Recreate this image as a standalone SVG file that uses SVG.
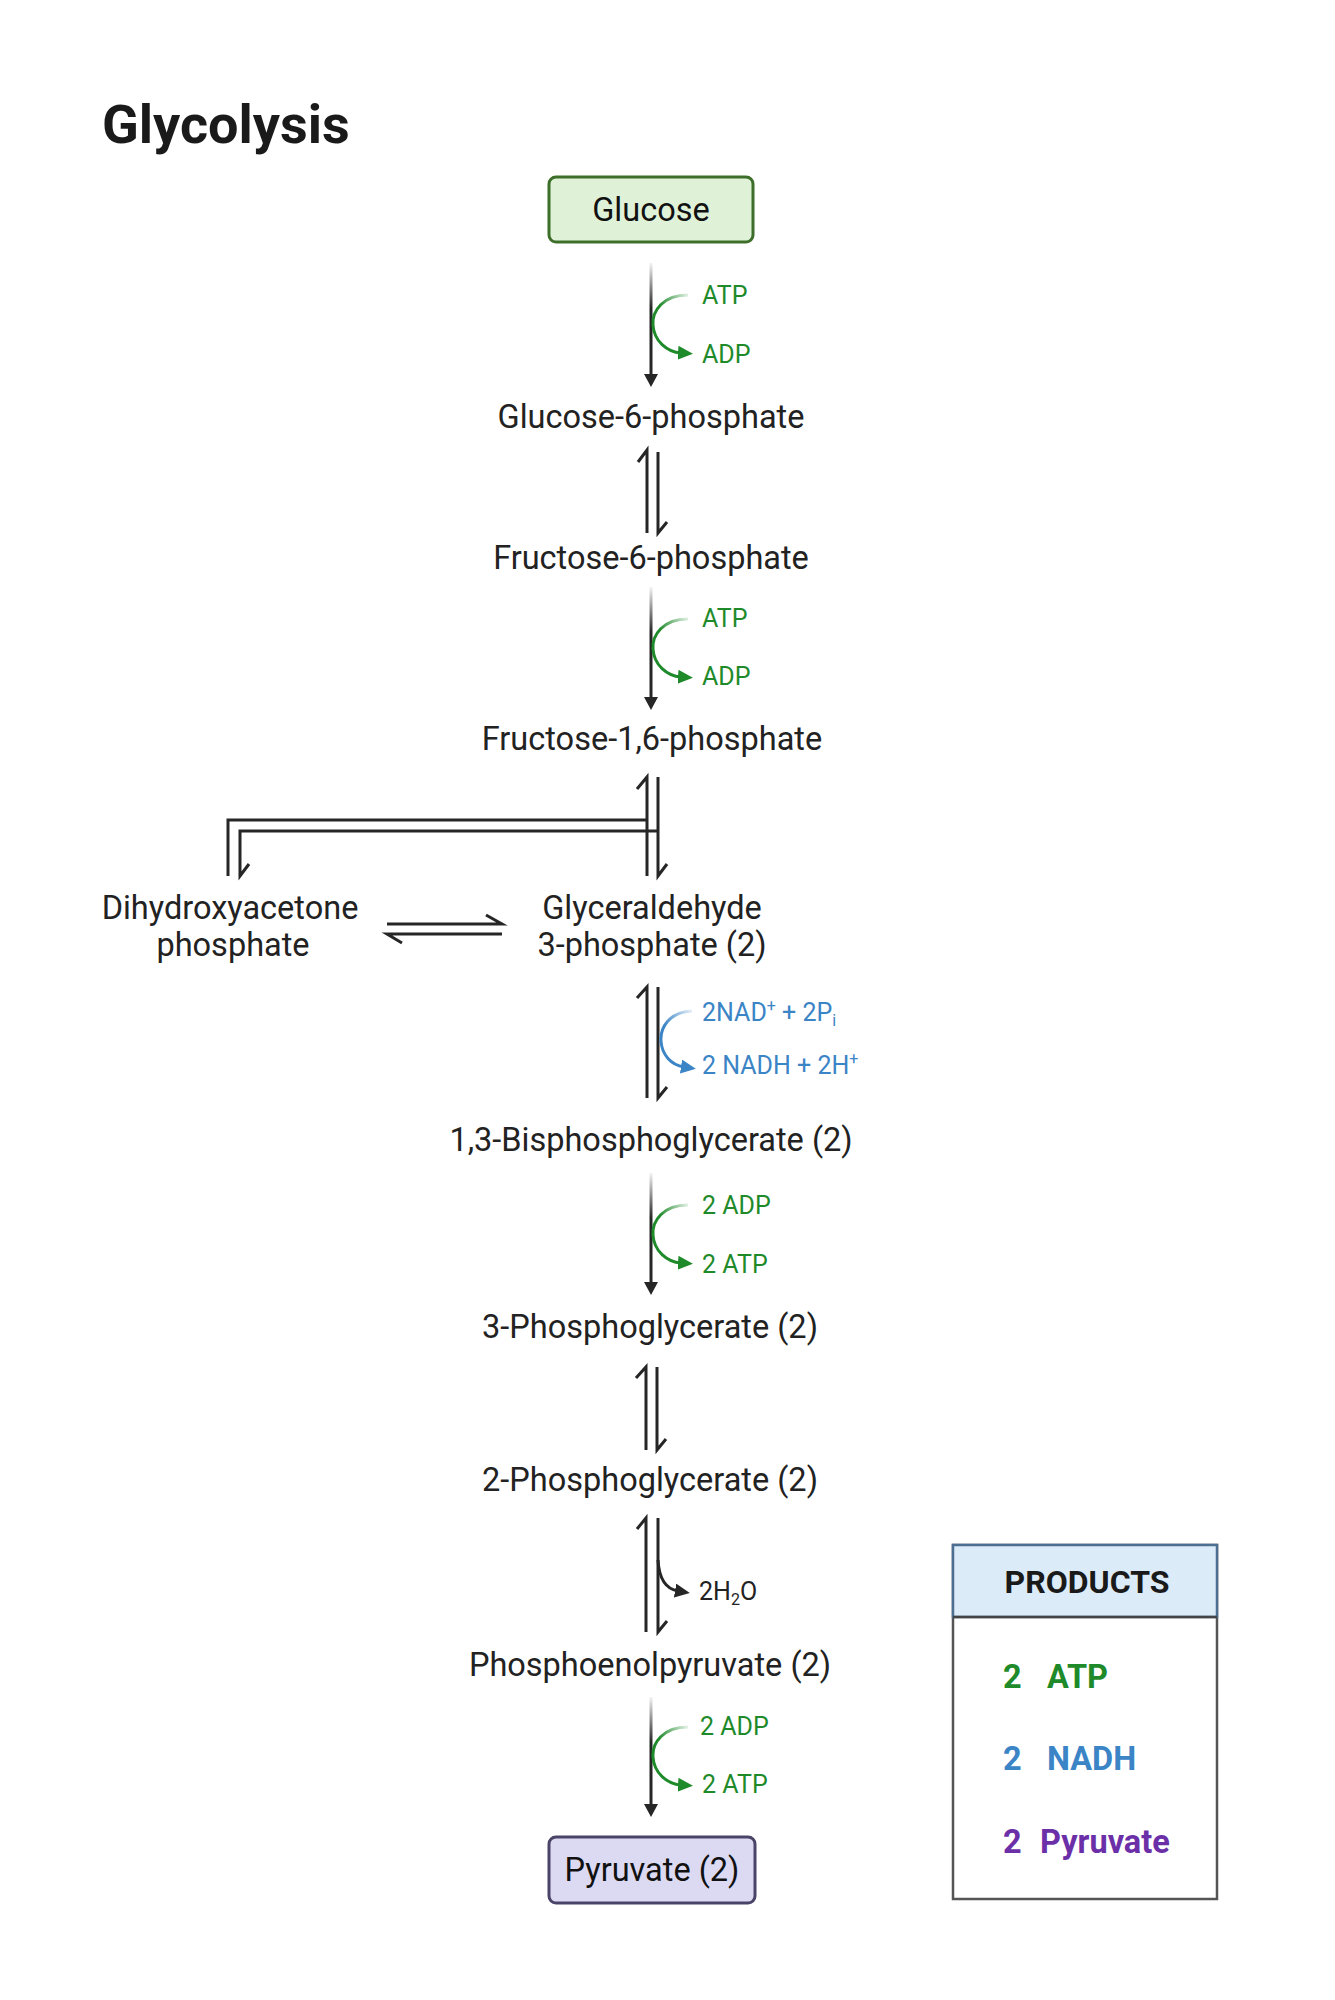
<svg xmlns="http://www.w3.org/2000/svg" width="1335" height="2000" viewBox="0 0 1335 2000">
<style>
  text { font-family: Roboto, "Liberation Sans", sans-serif; }
  .title { font-size: 54px; font-weight: 700; fill: #1a1a1a; }
  .lbl { font-size: 32.5px; fill: #222; text-anchor: middle; }
  .boxlbl { font-size: 32.5px; fill: #111; text-anchor: middle; }
  .green { font-size: 25px; fill: #1e8a2a; }
  .blue { font-size: 25px; fill: #3b84c6; }
  .dark { font-size: 25px; fill: #222; }
  .sub { font-size: 16px; }
  .stem { stroke: url(#stemFade); stroke-width: 3; fill: none; }
  .head { fill: #262626; }
  .eq { stroke: #262626; stroke-width: 3; fill: none; stroke-linecap: butt; stroke-linejoin: miter; }
  .gcurve { stroke: url(#greenFade); stroke-width: 3; fill: none; marker-end: url(#gHead); }
  .bcurve { stroke: url(#blueFade); stroke-width: 3; fill: none; marker-end: url(#bHead); }
  .kcurve { stroke: #262626; stroke-width: 3; fill: none; marker-end: url(#kHead); }
  .ph { font-size: 32px; font-weight: 700; fill: #1a1a1a; text-anchor: middle; }
  .pr { font-size: 32.5px; font-weight: 700; }
</style>
<defs>
  <linearGradient id="stemFade" gradientUnits="userSpaceOnUse" x1="0" y1="0" x2="0" y2="45">
    <stop offset="0" stop-color="#262626" stop-opacity="0.05"/>
    <stop offset="1" stop-color="#262626" stop-opacity="1"/>
  </linearGradient>
  <linearGradient id="greenFade" gradientUnits="userSpaceOnUse" x1="690" y1="32" x2="660" y2="44">
    <stop offset="0" stop-color="#1e8a2a" stop-opacity="0.08"/>
    <stop offset="1" stop-color="#1e8a2a" stop-opacity="1"/>
  </linearGradient>
  <linearGradient id="blueFade" gradientUnits="userSpaceOnUse" x1="694" y1="24" x2="664" y2="38">
    <stop offset="0" stop-color="#3b84c6" stop-opacity="0.08"/>
    <stop offset="1" stop-color="#3b84c6" stop-opacity="1"/>
  </linearGradient>
  <marker id="gHead" markerUnits="userSpaceOnUse" markerWidth="16" markerHeight="14" refX="3" refY="7" orient="auto">
    <path d="M0 0 L15 7 L0 14 z" fill="#1e8a2a"/>
  </marker>
  <marker id="bHead" markerUnits="userSpaceOnUse" markerWidth="16" markerHeight="14" refX="3" refY="7" orient="auto">
    <path d="M0 0 L15 7 L0 14 z" fill="#3b84c6"/>
  </marker>
  <marker id="kHead" markerUnits="userSpaceOnUse" markerWidth="16" markerHeight="14" refX="3" refY="7" orient="auto">
    <path d="M0 0 L15 7 L0 14 z" fill="#262626"/>
  </marker>
</defs>

<rect width="1335" height="2000" fill="#ffffff"/>

<text class="title" x="102" y="143">Glycolysis</text>

<!-- Connectors -->
<g id="connectors">
  <!-- Glucose -> G6P -->
  <g transform="translate(0,263)">
    <line class="stem" x1="651" y1="0" x2="651" y2="112"/>
    <polygon class="head" points="651,124 644,111 658,111"/>
    <path class="gcurve" d="M688 32 C663 32 652 48 653 62 C654 78 667 89 681 90"/>
  </g>
  <!-- G6P <-> F6P -->
  <path class="eq" d="M638 462 L647 450 L647 533 M658 452 L658 533 L667 522"/>
  <!-- F6P -> F1,6BP -->
  <g transform="translate(0,587)">
    <line class="stem" x1="651" y1="0" x2="651" y2="111"/>
    <polygon class="head" points="651,123 644,110 658,110"/>
    <path class="gcurve" d="M688 32 C663 32 652 48 653 62 C654 78 667 89 681 90"/>
  </g>
  <!-- F1,6BP <-> G3P and DHAP bracket -->
  <path class="eq" d="M637 789 L647 777 L647 876 M658 777 L658 876 L667 864"/>
  <path class="eq" d="M228 876 L228 820 L647 820"/>
  <path class="eq" d="M658 831 L240 831 L240 876 L249 864"/>
  <!-- DHAP <-> G3P -->
  <path class="eq" d="M387 924 L502 924 L486 915"/>
  <path class="eq" d="M502 934 L387 934 L402 943"/>
  <!-- G3P <-> 1,3BPG -->
  <g transform="translate(0,987)">
    <path class="eq" d="M637 11 L647 0 L647 111 M658 0 L658 111 L667 100"/>
    <path class="bcurve" d="M692 24 C669 25 660 41 661 54 C662 68 671 78 684 80"/>
  </g>
  <!-- 1,3BPG -> 3PG -->
  <g transform="translate(0,1173)">
    <line class="stem" x1="651" y1="0" x2="651" y2="110"/>
    <polygon class="head" points="651,122 644,109 658,109"/>
    <path class="gcurve" d="M688 32 C663 32 652 48 653 62 C654 78 667 89 681 90"/>
  </g>
  <!-- 3PG <-> 2PG -->
  <path class="eq" d="M636 1378 L646 1367 L646 1450 M657 1367 L657 1450 L666 1439"/>
  <!-- 2PG <-> PEP -->
  <path class="eq" d="M637 1529 L646 1518 L646 1632 M658 1518 L658 1632 L667 1621"/>
  <path class="kcurve" d="M658 1560 C659 1578 666 1589 678 1591"/>
  <!-- PEP -> Pyruvate -->
  <g transform="translate(0,1697)">
    <line class="stem" x1="651" y1="0" x2="651" y2="108"/>
    <polygon class="head" points="651,120 644,107 658,107"/>
    <path class="gcurve" d="M688 30 C663 30 652 46 653 60 C654 76 667 87 681 88"/>
  </g>
</g>

<!-- Cofactor labels -->
<g id="cofactors">
  <text class="green" x="702" y="304">ATP</text>
  <text class="green" x="702" y="363">ADP</text>
  <text class="green" x="702" y="627">ATP</text>
  <text class="green" x="702" y="685">ADP</text>
  <text class="blue" x="702" y="1021">2NAD<tspan class="sub" dy="-10">+</tspan><tspan dy="10"> + 2P</tspan><tspan class="sub" dy="5">i</tspan></text>
  <text class="blue" x="702" y="1074">2 NADH + 2H<tspan class="sub" dy="-10">+</tspan></text>
  <text class="green" x="702" y="1214">2 ADP</text>
  <text class="green" x="702" y="1273">2 ATP</text>
  <text class="dark" x="699" y="1600">2H<tspan class="sub" dy="5">2</tspan><tspan dy="-5">O</tspan></text>
  <text class="green" x="700" y="1735">2 ADP</text>
  <text class="green" x="702" y="1793">2 ATP</text>
</g>

<!-- Nodes -->
<g id="glucose">
  <rect x="549" y="177" width="204" height="65" rx="7" fill="#dff2d8" stroke="#3d6e2a" stroke-width="3"/>
  <text class="boxlbl" x="651" y="221">Glucose</text>
</g>
<g id="g6p"><text class="lbl" x="651" y="428">Glucose-6-phosphate</text></g>
<g id="f6p"><text class="lbl" x="651" y="569">Fructose-6-phosphate</text></g>
<g id="f16bp"><text class="lbl" x="652" y="750">Fructose-1,6-phosphate</text></g>
<g id="dhap">
  <text class="lbl" x="230" y="919">Dihydroxyacetone</text>
  <text class="lbl" x="233" y="956">phosphate</text>
</g>
<g id="g3p">
  <text class="lbl" x="652" y="919">Glyceraldehyde</text>
  <text class="lbl" x="652" y="956">3-phosphate (2)</text>
</g>
<g id="bpg"><text class="lbl" x="651" y="1151">1,3-Bisphosphoglycerate (2)</text></g>
<g id="pg3"><text class="lbl" x="650" y="1338">3-Phosphoglycerate (2)</text></g>
<g id="pg2"><text class="lbl" x="650" y="1491">2-Phosphoglycerate (2)</text></g>
<g id="pep"><text class="lbl" x="650" y="1676">Phosphoenolpyruvate (2)</text></g>
<g id="pyruvate">
  <rect x="549" y="1837" width="206" height="66" rx="7" fill="#dcdaf2" stroke="#4b4468" stroke-width="3"/>
  <text class="boxlbl" x="652" y="1881">Pyruvate (2)</text>
</g>

<g id="products">
  <rect x="953" y="1545" width="264" height="354" fill="#ffffff" stroke="#555555" stroke-width="2.5"/>
  <rect x="953" y="1545" width="264" height="72" fill="#dcebf8" stroke="#4d6f91" stroke-width="2.5"/>
  <line x1="953" y1="1617" x2="1217" y2="1617" stroke="#444" stroke-width="2.5"/>
  <text class="ph" x="1087" y="1593">PRODUCTS</text>
  <text class="pr" fill="#1e8a2a"><tspan x="1003" y="1688">2</tspan><tspan x="1047" y="1688">ATP</tspan></text>
  <text class="pr" fill="#3b84c6"><tspan x="1003" y="1770">2</tspan><tspan x="1047" y="1770">NADH</tspan></text>
  <text class="pr" fill="#6b2fa8"><tspan x="1003" y="1853">2</tspan><tspan x="1040" y="1853">Pyruvate</tspan></text>
</g>
</svg>
